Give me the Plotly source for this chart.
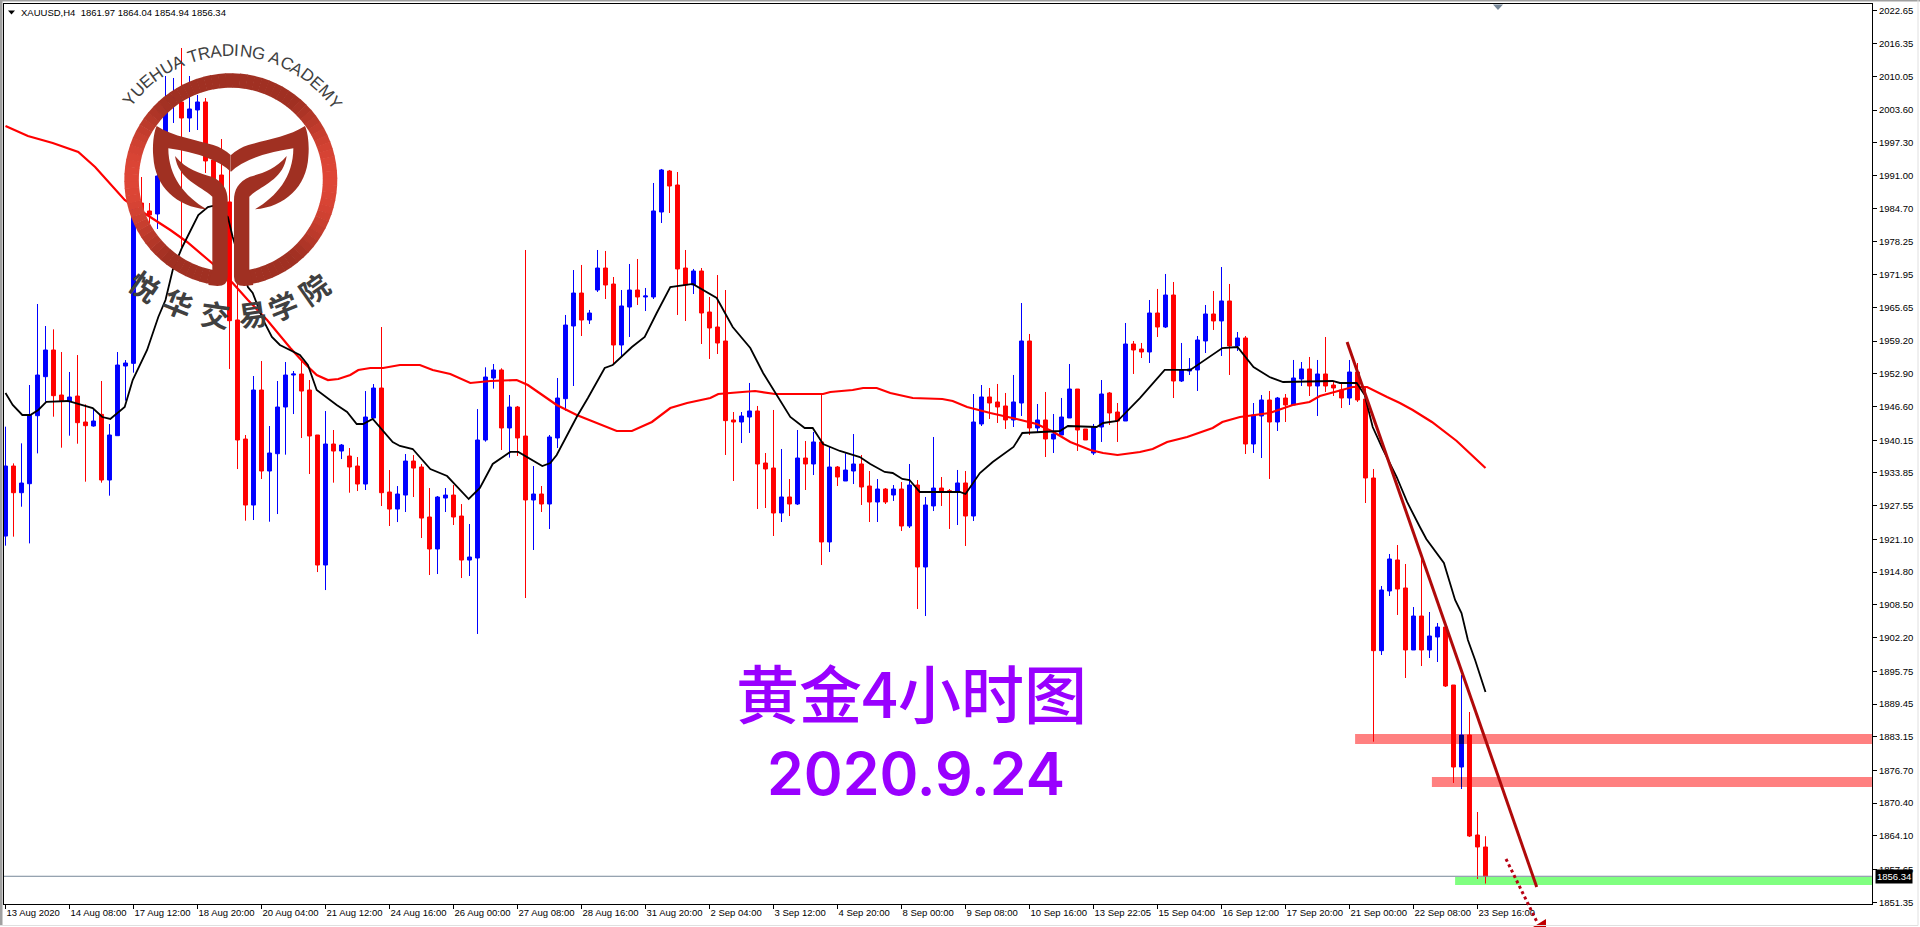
import math
import plotly.graph_objects as go

# XAUUSD H4 bars
direction = ("BRBBBBRRBR" "RBRBBBBRRB" "BBRBBRRRRR" "RBRBBBBRRR" "BRBRRBBRRB" "BRRRBBRRBB" "BBRBRRBRBB"
             "BBRBBRRBBR" "BBBRRRBRRR" "RRBBRRRBRB" "RBRBRBBRRB" "RBRBRBBRRB" "RBBRRRBBRB" "RBBBRRBBRR"
             "BRRBRBRBBB" "BRBRBRBBRB" "RBBRBRRRBR" "RRBBRRBRBB" "RRBRRR")

highs = [1942.75, 1935.70, 1939.55, 1950.76, 1966.33, 1962.10, 1961.46, 1957.10, 1953.26, 1956.52,
         1947.04, 1946.27, 1951.53, 1943.26, 1957.10, 1955.56, 1987.28, 1990.74, 1985.74, 1993.05,
         2010.15, 2009.77, 2015.53, 2010.15, 2006.50, 2005.92, 1996.31, 1998.04, 1992.09, 1971.90,
         1941.15, 1952.49, 1955.37, 1942.88, 1951.53, 1955.18, 1953.45, 1955.56, 1951.72, 1941.15,
         1945.76, 1942.11, 1939.42, 1938.65, 1936.92, 1949.60, 1950.95, 1961.91, 1934.42, 1931.34,
         1937.50, 1937.30, 1935.57, 1930.96, 1929.42, 1930.96, 1931.54, 1927.88, 1924.04, 1946.14,
         1954.16, 1954.80, 1953.97, 1948.84, 1946.73, 1976.71, 1935.19, 1931.35, 1941.15, 1952.11,
         1964.22, 1972.86, 1973.83, 1965.18, 1976.71, 1976.52, 1971.52, 1969.02, 1974.02, 1974.98,
         1969.41, 1989.59, 1992.28, 1992.09, 1991.70, 1976.71, 1973.06, 1973.25, 1967.68, 1971.90,
         1969.02, 1945.57, 1945.57, 1951.15, 1946.73, 1937.69, 1945.96, 1938.46, 1932.69, 1942.11,
         1940.00, 1941.73, 1949.03, 1938.91, 1935.19, 1937.63, 1941.34, 1937.31, 1934.23, 1932.69,
         1930.96, 1931.54, 1932.12, 1935.58, 1932.50, 1929.24, 1940.77, 1933.08, 1930.77, 1934.43,
         1934.23, 1949.03, 1950.76, 1950.19, 1950.96, 1949.23, 1952.69, 1966.52, 1960.57, 1947.11,
         1949.42, 1945.19, 1948.27, 1954.80, 1949.99, 1942.31, 1943.27, 1951.72, 1949.42, 1947.30,
         1962.68, 1959.22, 1958.84, 1967.10, 1969.22, 1972.10, 1970.56, 1958.84, 1955.95, 1960.18,
         1966.14, 1968.83, 1973.44, 1970.18, 1960.95, 1960.18, 1947.30, 1948.84, 1949.61, 1948.46,
         1949.03, 1955.57, 1955.18, 1956.15, 1955.57, 1959.99, 1951.34, 1950.96, 1955.57, 1954.99,
         1950.57, 1934.62, 1912.13, 1918.28, 1920.01, 1916.36, 1908.09, 1917.70, 1907.13, 1905.02,
         1904.45, 1893.10, 1895.02, 1887.91, 1868.69, 1864.04]

body_tops = [1935.19, 1935.19, 1931.92, 1944.99, 1952.68, 1957.49, 1957.49, 1948.84, 1948.45, 1948.64,
             1943.65, 1943.84, 1945.12, 1941.15, 1954.60, 1954.99, 1985.36, 1985.74, 1984.21, 1990.93,
             2005.54, 2006.12, 2005.16, 2003.81, 2005.16, 2005.16, 1994.01, 1991.12, 1985.94, 1963.26,
             1940.38, 1949.80, 1949.80, 1937.69, 1946.53, 1952.68, 1952.87, 1952.87, 1949.80, 1941.15,
             1939.42, 1939.42, 1939.23, 1937.11, 1935.19, 1944.61, 1950.18, 1950.18, 1930.19, 1929.81,
             1936.15, 1936.15, 1935.00, 1925.39, 1929.23, 1929.61, 1929.61, 1925.58, 1917.70, 1940.19,
             1952.30, 1953.65, 1953.65, 1946.53, 1946.53, 1940.96, 1929.81, 1929.81, 1940.77, 1948.26,
             1962.29, 1968.44, 1968.44, 1964.60, 1973.25, 1973.25, 1970.17, 1965.95, 1969.02, 1969.02,
             1967.87, 1984.21, 1992.09, 1991.89, 1989.20, 1973.25, 1972.67, 1972.67, 1964.79, 1961.91,
             1959.22, 1944.04, 1944.80, 1945.77, 1945.77, 1935.77, 1934.81, 1929.24, 1929.24, 1936.73,
             1936.73, 1939.81, 1939.81, 1935.00, 1935.00, 1934.42, 1935.58, 1935.58, 1931.35, 1930.77,
             1930.77, 1930.77, 1930.77, 1931.54, 1931.54, 1927.70, 1930.96, 1930.96, 1930.45, 1931.93,
             1931.93, 1943.65, 1948.46, 1948.46, 1947.50, 1946.73, 1947.50, 1959.22, 1959.22, 1944.04,
             1944.04, 1941.35, 1944.61, 1949.99, 1949.99, 1942.31, 1942.69, 1949.03, 1949.23, 1945.57,
             1958.64, 1958.64, 1957.68, 1964.60, 1964.60, 1968.06, 1968.06, 1953.65, 1953.84, 1959.41,
             1964.41, 1964.41, 1966.91, 1966.91, 1959.80, 1959.80, 1945.00, 1947.88, 1947.88, 1948.26,
             1948.26, 1952.11, 1953.84, 1953.84, 1952.88, 1952.88, 1950.76, 1949.80, 1953.26, 1953.26,
             1948.07, 1932.89, 1911.36, 1917.32, 1917.13, 1911.75, 1906.36, 1906.36, 1902.52, 1904.25,
             1904.25, 1893.10, 1883.49, 1883.49, 1864.27, 1861.97]

body_bottoms = [1921.73, 1930.06, 1930.06, 1931.79, 1944.86, 1952.36, 1948.71, 1947.75, 1947.55, 1943.52,
                1942.94, 1942.88, 1932.50, 1932.50, 1941.02, 1954.41, 1954.92, 1983.82, 1983.44, 1983.63,
                1999.39, 2004.96, 2002.08, 2002.08, 2003.62, 1993.82, 1989.20, 1986.32, 1963.12, 1940.19,
                1927.69, 1927.69, 1934.23, 1934.23, 1937.56, 1946.53, 1952.68, 1949.60, 1940.96, 1916.16,
                1916.16, 1938.07, 1938.07, 1935.00, 1931.73, 1931.73, 1944.42, 1930.06, 1926.92, 1926.92,
                1929.61, 1934.80, 1925.19, 1919.24, 1919.24, 1929.04, 1925.39, 1917.12, 1917.12, 1917.51,
                1940.19, 1952.11, 1942.50, 1942.50, 1940.58, 1928.66, 1928.66, 1927.89, 1927.89, 1940.58,
                1948.13, 1962.10, 1963.25, 1963.25, 1969.02, 1969.98, 1958.45, 1958.45, 1965.75, 1967.68,
                1967.68, 1967.68, 1984.01, 1989.01, 1973.06, 1969.98, 1969.98, 1964.60, 1961.72, 1958.83,
                1943.91, 1943.65, 1943.65, 1944.61, 1935.58, 1934.62, 1926.16, 1926.16, 1927.89, 1927.89,
                1935.58, 1935.58, 1920.59, 1920.59, 1933.08, 1932.31, 1934.23, 1931.16, 1928.27, 1928.27,
                1928.27, 1929.62, 1923.66, 1923.66, 1915.78, 1915.78, 1927.51, 1930.20, 1930.20, 1930.20,
                1925.58, 1925.58, 1943.27, 1947.30, 1946.54, 1944.04, 1944.04, 1947.30, 1942.50, 1942.50,
                1940.38, 1940.38, 1941.15, 1944.42, 1942.11, 1940.19, 1937.69, 1942.69, 1945.38, 1943.84,
                1943.84, 1957.49, 1957.11, 1957.11, 1961.91, 1961.91, 1951.53, 1951.53, 1953.45, 1953.65,
                1959.22, 1963.07, 1963.07, 1958.26, 1958.26, 1939.42, 1939.42, 1944.81, 1943.65, 1943.65,
                1946.92, 1946.92, 1951.92, 1950.57, 1950.57, 1950.57, 1950.19, 1948.26, 1948.26, 1947.88,
                1932.89, 1899.70, 1899.70, 1911.17, 1911.55, 1899.83, 1899.83, 1899.83, 1899.83, 1902.33,
                1892.91, 1877.34, 1877.34, 1864.08, 1861.97, 1856.34]

lows = [1919.88, 1921.61, 1927.37, 1920.32, 1937.62, 1947.55, 1944.67, 1938.71, 1941.02, 1939.48,
        1932.18, 1942.75, 1931.99, 1929.49, 1941.02, 1947.75, 1953.13, 1982.09, 1981.90, 1980.75,
        1998.81, 2001.12, 1977.29, 1999.39, 1999.77, 1991.51, 1987.28, 1978.63, 1953.84, 1934.61,
        1924.68, 1924.81, 1932.69, 1924.49, 1925.96, 1937.37, 1945.18, 1940.57, 1933.65, 1914.81,
        1911.35, 1931.99, 1936.53, 1930.06, 1930.38, 1930.58, 1944.35, 1927.50, 1923.66, 1924.42,
        1926.35, 1929.23, 1921.35, 1914.24, 1914.43, 1926.35, 1923.85, 1913.66, 1914.05, 1902.91,
        1939.87, 1950.06, 1938.27, 1936.80, 1937.12, 1909.82, 1919.05, 1926.35, 1923.08, 1938.65,
        1945.83, 1950.57, 1960.18, 1962.49, 1968.64, 1967.29, 1954.60, 1956.33, 1959.99, 1966.14,
        1964.98, 1967.29, 1981.90, 1983.82, 1964.22, 1963.06, 1968.25, 1958.64, 1955.76, 1956.72,
        1937.31, 1932.31, 1939.61, 1941.54, 1926.93, 1927.12, 1921.74, 1924.43, 1925.58, 1927.70,
        1930.58, 1933.46, 1916.16, 1918.66, 1931.35, 1932.31, 1931.73, 1927.70, 1924.43, 1924.43,
        1927.89, 1928.47, 1922.70, 1923.28, 1907.71, 1906.36, 1926.54, 1927.51, 1923.09, 1923.85,
        1919.82, 1924.62, 1942.88, 1944.23, 1943.46, 1942.31, 1942.69, 1944.81, 1941.15, 1941.73,
        1936.92, 1937.69, 1941.15, 1944.42, 1938.08, 1940.19, 1937.31, 1939.81, 1943.08, 1939.81,
        1943.84, 1952.88, 1955.95, 1954.99, 1959.99, 1961.72, 1948.26, 1951.34, 1952.69, 1949.61,
        1956.91, 1961.34, 1956.34, 1952.69, 1957.30, 1937.50, 1937.69, 1936.73, 1932.70, 1941.92,
        1943.65, 1946.92, 1950.57, 1948.65, 1944.81, 1949.42, 1948.65, 1946.34, 1946.92, 1947.50,
        1928.08, 1882.21, 1898.87, 1910.21, 1906.56, 1894.45, 1899.83, 1896.75, 1898.29, 1897.52,
        1892.72, 1874.27, 1873.11, 1863.89, 1855.82, 1854.94]

# moving averages, read at the bar positions where the line bends
red_ma_pos = [0, 2.8, 5.9, 9.1, 11.2, 12.7, 14.9, 17.7, 20.6, 22.7, 25.8, 28.4, 30.3, 32.7, 35.6, 37.2, 38.9, 40.3,
              41.6, 43.1, 44.1, 45.6, 47.2, 49.3, 51.8, 53.4, 55.6, 58.1, 60.6, 63.9, 65.3, 67.1, 68.9, 71.4,
              74.1, 76.4, 78.3, 80.8, 83.1, 85.2, 88.1, 89.1, 92.1, 93.7, 96.2, 102.2, 103.1, 105.9, 107.2,
              108.9, 110.6, 113.4, 117.1, 118.4, 120.2, 123.1, 126.4, 128.9, 131, 133.1, 135.6, 137.2, 139,
              141.8, 143.4, 145.2, 147.7, 150.9, 152.1, 154.3, 158, 160.9, 163, 164.3, 168.4, 170.2, 172.7,
              174.3, 175.9, 178.3, 181.4, 185]
red_ma = [2000.54, 1998.62, 1997.28, 1995.55, 1992.66, 1990.16, 1986.32, 1983.44, 1980.55, 1978.25, 1974.21,
          1970.37, 1967.10, 1963.26, 1957.87, 1955.18, 1952.68, 1951.72, 1951.92, 1952.68, 1953.65, 1954.03,
          1954.03, 1954.61, 1954.61, 1953.65, 1952.88, 1951.15, 1951.53, 1951.72, 1950.76, 1948.84, 1946.92,
          1945.00, 1943.27, 1941.92, 1941.92, 1943.65, 1946.34, 1947.30, 1948.26, 1949.03, 1949.42, 1949.61,
          1949.03, 1949.03, 1949.42, 1949.80, 1950.19, 1950.19, 1949.23, 1948.26, 1948.07, 1947.69, 1946.53,
          1945.38, 1944.23, 1943.27, 1941.73, 1939.81, 1938.27, 1937.69, 1937.31, 1937.89, 1938.46, 1939.81,
          1940.77, 1942.50, 1943.65, 1944.61, 1945.38, 1946.92, 1947.50, 1948.65, 1950.38, 1950.38, 1948.46,
          1947.30, 1945.96, 1943.65, 1940.00, 1934.81]

black_ma_pos = [0, 0.9, 2.1, 3.1, 4.1, 5.1, 7.8, 9.1, 10.9, 12.1, 13.1, 14.9, 15.9, 17.7, 19.1, 20, 20.9, 22.1,
                24.1, 25.3, 25.9, 27.8, 28.4, 30.3, 30.9, 32.2, 33.3, 34.3, 36.8, 37.8, 38.9, 41.4, 42.7, 43.9,
                44.7, 45.9, 48.4, 49.3, 50.9, 53.1, 55.2, 57.9, 59.3, 60.9, 63.1, 64.1, 67.1, 68.1, 68.9, 71.4,
                72.8, 74.9, 75.9, 78.3, 79.9, 81.4, 83.1, 85.9, 88.9, 90.9, 93.1, 94.7, 98.1, 99.9, 100.9, 102.2,
                104.3, 106.8, 108.1, 109.9, 110.9, 112.1, 113, 114.3, 118.1, 119.3, 120, 121.8, 123.4, 126, 127.1,
                131.8, 132.8, 136.4, 137.2, 139, 141.8, 144.9, 148.1, 152.1, 154, 156, 158, 159.7, 165.9, 166.8,
                168.9, 169.9, 170.9, 172.1, 173.9, 175.2, 176.8, 177.6, 179.8, 181.2, 182, 182.8, 183.7, 185]
black_ma = [1949.23, 1946.92, 1945.00, 1945.00, 1945.96, 1947.50, 1947.69, 1947.11, 1946.34, 1944.61, 1944.23,
            1946.53, 1951.72, 1957.49, 1963.83, 1967.10, 1972.87, 1977.29, 1983.44, 1984.97, 1985.17, 1983.05,
            1979.21, 1969.60, 1968.45, 1963.26, 1959.99, 1958.45, 1956.53, 1954.61, 1949.80, 1946.92, 1945.57,
            1943.27, 1943.27, 1944.23, 1939.81, 1939.04, 1938.46, 1934.62, 1933.27, 1928.85, 1930.97, 1935.58,
            1937.89, 1937.89, 1935.19, 1935.77, 1937.31, 1944.61, 1948.26, 1954.03, 1954.61, 1958.07, 1959.99,
            1964.60, 1969.60, 1970.18, 1967.48, 1961.91, 1957.87, 1953.07, 1944.61, 1942.50, 1942.50, 1939.42,
            1938.08, 1936.92, 1935.58, 1934.04, 1933.85, 1932.70, 1932.50, 1930.20, 1930.20, 1930.20, 1929.81,
            1933.85, 1935.96, 1938.85, 1941.54, 1941.92, 1942.88, 1942.69, 1943.46, 1943.84, 1948.26, 1953.65,
            1953.65, 1957.87, 1958.07, 1954.22, 1952.30, 1951.34, 1951.53, 1951.15, 1951.15, 1948.84, 1942.69,
            1938.65, 1933.08, 1928.28, 1923.47, 1921.16, 1916.55, 1909.44, 1906.94, 1901.75, 1897.91, 1891.76]

price_ticks = [2022.65, 2016.35, 2010.05, 2003.60, 1997.30, 1991.00, 1984.70, 1978.25, 1971.95, 1965.65,
               1959.20, 1952.90, 1946.60, 1940.15, 1933.85, 1927.55, 1921.10, 1914.80, 1908.50, 1902.20,
               1895.75, 1889.45, 1883.15, 1876.70, 1870.40, 1864.10, 1857.65, 1851.35]
date_labels = ["13 Aug 2020", "14 Aug 08:00", "17 Aug 12:00", "18 Aug 20:00", "20 Aug 04:00", "21 Aug 12:00",
               "24 Aug 16:00", "26 Aug 00:00", "27 Aug 08:00", "28 Aug 16:00", "31 Aug 20:00", "2 Sep 04:00",
               "3 Sep 12:00", "4 Sep 20:00", "8 Sep 00:00", "9 Sep 08:00", "10 Sep 16:00", "13 Sep 22:05",
               "15 Sep 04:00", "16 Sep 12:00", "17 Sep 20:00", "21 Sep 00:00", "22 Sep 08:00", "23 Sep 16:00"]

last_price = 1856.34
zones = [(168.7, 1881.77, 1883.69, "#FF8080"), (178.3, 1873.50, 1875.42, "#FF8080"), (181.2, 1854.66, 1856.20, "#80FF80")]

WIDTH, HEIGHT = 1920, 927
TICK_FONT = "Liberation Sans, sans-serif"
TICK_SIZE = 9.5
LOGO_DARK = (160, 48, 34)
LOGO_LIGHT = (222, 70, 54)


def px(x):
    return x / WIDTH


def py(y):
    return 1 - y / HEIGHT


def logo_path(cmds):
    # cmds are in zoomed logo units, 3 units to a screen pixel
    out = []
    for cmd, pts in cmds:
        out.append(cmd + " ".join("%.5f,%.5f" % (px(a / 3), py(b / 3)) for a, b in pts))
    return " ".join(out) + " Z"


def mirrored(cmds, axis=1385):
    return [(c, [(axis - a, b) for a, b in pts]) for c, pts in cmds]


fig = go.Figure()

opens = [b if d == "B" else t for d, t, b in zip(direction, body_tops, body_bottoms)]
closes = [t if d == "B" else b for d, t, b in zip(direction, body_tops, body_bottoms)]
bars = list(range(len(highs)))

fig.add_trace(go.Candlestick(x=bars, open=opens, high=highs, low=lows, close=closes,
                             increasing=dict(line=dict(color="#0000FF", width=1), fillcolor="#0000FF"),
                             decreasing=dict(line=dict(color="#FF0000", width=1), fillcolor="#FF0000"),
                             whiskerwidth=0, showlegend=False))
fig.add_trace(go.Scatter(x=red_ma_pos, y=red_ma, mode="lines", line=dict(color="#FF0000", width=2.2), showlegend=False))
fig.add_trace(go.Scatter(x=black_ma_pos, y=black_ma, mode="lines", line=dict(color="#000000", width=1.8), showlegend=False))

shapes = []
# zones sit under the candles
for x0, y0, y1, col in zones:
    shapes.append(dict(type="rect", xref="x", yref="y", x0=x0, x1=233.3, y0=y0, y1=y1,
                       fillcolor=col, line_width=0, layer="below"))
shapes.append(dict(type="line", xref="x", yref="y", x0=-0.2, x1=233.3, y0=last_price, y1=last_price,
                   line=dict(color="#778899", width=1)))
# blue bar shows dark where it crosses the pink zones
shapes.append(dict(type="rect", xref="x", yref="y", x0=181.7, x1=182.3, y0=1881.77, y1=1883.49,
                   fillcolor="#000080", line_width=0))
shapes.append(dict(type="line", xref="x", yref="y", x0=182, x1=182, y0=1873.50, y1=1875.42,
                   line=dict(color="#000080", width=1)))
# trend line and dotted arrow
shapes.append(dict(type="line", xref="x", yref="y", x0=167.7, y0=1959.03, x1=191.4, y1=1854.28,
                   line=dict(color="#B00A0A", width=3)))
shapes.append(dict(type="line", xref="paper", yref="paper", x0=px(1506), y0=py(859), x1=px(1537), y1=py(922),
                   line=dict(color="#B80012", width=3, dash="dot")))
shapes.append(dict(type="path", xref="paper", yref="paper", line_width=0, fillcolor="#C00000",
                   path="M%.5f,%.5f L%.5f,%.5f L%.5f,%.5f Z" % (px(1546), py(919), px(1546), py(927), px(1533), py(927))))

# window frame
shapes.append(dict(type="rect", xref="paper", yref="paper", x0=0, x1=px(2.5), y0=py(926), y1=1,
                   fillcolor="#A0A0A0", line_width=0))
shapes.append(dict(type="rect", xref="paper", yref="paper", x0=0, x1=1, y0=py(1.5), y1=1,
                   fillcolor="#A0A0A0", line_width=0))
shapes.append(dict(type="line", xref="paper", yref="paper", x0=0, x1=px(1918), y0=py(925.5), y1=py(925.5),
                   line=dict(color="#E0E0E0", width=1)))
shapes.append(dict(type="line", xref="paper", yref="paper", x0=px(1918), x1=px(1918), y0=py(925.5), y1=1,
                   line=dict(color="#E0E0E0", width=1)))
# little markers in the header
shapes.append(dict(type="path", xref="paper", yref="paper", line_width=0, fillcolor="#000000",
                   path="M%.5f,%.5f L%.5f,%.5f L%.5f,%.5f Z" % (px(8), py(10.5), px(15), py(10.5), px(11.5), py(14.5))))
shapes.append(dict(type="path", xref="paper", yref="paper", line_width=0, fillcolor="#778899",
                   path="M%.5f,%.5f L%.5f,%.5f L%.5f,%.5f Z" % (px(1493), py(4.5), px(1503), py(4.5), px(1498), py(10))))

# logo ring, lighter towards the left and right edges
cx, cy, r_out, r_in = 230.8, 179.7, 106.5, 92
step = 4
for a in range(-171, 171, step):
    t0, t1 = math.radians(a), math.radians(a + step + 0.3)
    pts = [(cx + r_out * math.sin(t0), cy - r_out * math.cos(t0)), (cx + r_out * math.sin(t1), cy - r_out * math.cos(t1)),
           (cx + r_in * math.sin(t1), cy - r_in * math.cos(t1)), (cx + r_in * math.sin(t0), cy - r_in * math.cos(t0))]
    k = max(0, (abs(math.sin((t0 + t1) / 2)) - 0.6) / 0.4) ** 1.5
    col = "rgb(%d,%d,%d)" % tuple(round(d + (l - d) * k) for d, l in zip(LOGO_DARK, LOGO_LIGHT))
    path = "M" + " L".join("%.5f,%.5f" % (px(x), py(y)) for x, y in pts) + " Z"
    shapes.append(dict(type="path", xref="paper", yref="paper", path=path, fillcolor=col, line_width=0))

crown_left = [("M", [(692, 465)]), ("Q", [(670, 445), (640, 435)]), ("C", [(590, 420), (520, 410), (470, 378)]),
              ("C", [(460, 400), (457, 440), (460, 470)]), ("C", [(465, 560), (530, 620), (620, 628)]),
              ("C", [(555, 590), (505, 530), (505, 445)]), ("Q", [(640, 465), (692, 515)])]
leaf_left = [("M", [(525, 468)]), ("C", [(560, 510), (600, 520), (635, 530)]), ("C", [(670, 545), (683, 570), (683, 600)]),
             ("L", [(683, 830)]), ("Q", [(683, 858), (652, 858)]), ("L", [(625, 855)]), ("L", [(637, 810)]),
             ("L", [(637, 590)]), ("C", [(600, 555), (535, 540), (525, 468)])]
logo_col = "rgb(%d,%d,%d)" % LOGO_DARK
for part in (crown_left, mirrored(crown_left), leaf_left, mirrored(leaf_left)):
    shapes.append(dict(type="path", xref="paper", yref="paper", path=logo_path(part), fillcolor=logo_col, line_width=0))

annotations = []


def note(text, x, y, size, color="#000000", family=TICK_FONT, angle=0, anchor="center", weight=None, **kw):
    annotations.append(dict(text=text, xref="paper", yref="paper", x=px(x), y=py(y), showarrow=False,
                            xanchor=anchor, yanchor="middle", textangle=angle,
                            font=dict(size=size, color=color, family=family, weight=weight), **kw))


note("XAUUSD,H4&nbsp;&nbsp;1861.97 1864.04 1854.94 1856.34", 19, 12.5, TICK_SIZE, anchor="left")
note("1856.34", 1875, 876, TICK_SIZE, color="#FFFFFF", anchor="left", bgcolor="#000000", borderpad=1)
note("黄金4小时图", 911, 690, 63, color="#9900FF", family="Noto Sans CJK SC", weight=500)
note("2020.9.24", 916, 773, 59, color="#9900FF", family="Inter", weight=600)

# round text of the logo
title_chars = "YUEHUA TRADING ACADEMY"
char_w = [.667, .722, .667, .722, .722, .667, .278, .611, .722, .667, .722, .278, .722, .778, .278,
          .667, .722, .667, .722, .667, .833, .667]
pos = 0
for ch, w in zip(title_chars, char_w):
    deg = -54 + 110 * (pos + w / 2) / sum(char_w)
    pos += w
    if ch != " ":
        note(ch, cx + 129 * math.sin(math.radians(deg)), cy - 129 * math.cos(math.radians(deg)), 17,
             color="#404040", family="Liberation Sans", angle=deg)
for ch, x, y, deg in [("悦", 145, 285, 35), ("华", 178, 302, 22), ("交", 215, 313, 8),
                      ("易", 252, 313, -8), ("学", 282, 305, -22), ("院", 313, 288, -35)]:
    note("<b>%s</b>" % ch, x, y, 29, color="#404040", family="Noto Sans CJK SC", angle=deg)

fig.update_layout(width=WIDTH, height=HEIGHT, margin=dict(l=0, r=0, t=0, b=0), autosize=False,
                  paper_bgcolor="#FFFFFF", plot_bgcolor="#FFFFFF", showlegend=False, hovermode=False,
                  shapes=shapes, annotations=annotations)
fig.update_xaxes(domain=[px(4), px(1872)], range=[-0.1875, 233.3125], rangeslider_visible=False, automargin=False,
                 tickmode="array", tickvals=bars[::8], ticktext=date_labels, ticks="outside", ticklen=4,
                 tickcolor="#000000", ticklabelposition="outside right",
                 tickfont=dict(family=TICK_FONT, size=TICK_SIZE, color="#000000"), tickangle=0,
                 showgrid=False, zeroline=False, showline=True, linecolor="#000000", linewidth=1, mirror=True)
fig.update_yaxes(domain=[py(904), py(4)], range=[1851.01, 2023.99], side="right", automargin=False,
                 tickmode="array", tickvals=price_ticks, ticktext=["%.2f" % p for p in price_ticks],
                 ticks="outside", ticklen=4, tickcolor="#000000",
                 tickfont=dict(family=TICK_FONT, size=TICK_SIZE, color="#000000"),
                 showgrid=False, zeroline=False, showline=True, linecolor="#000000", linewidth=1, mirror=True)

fig.write_html("out.html", config=dict(displayModeBar=False),
               post_script="document.body.style.margin='0';document.body.style.overflow='hidden';")
